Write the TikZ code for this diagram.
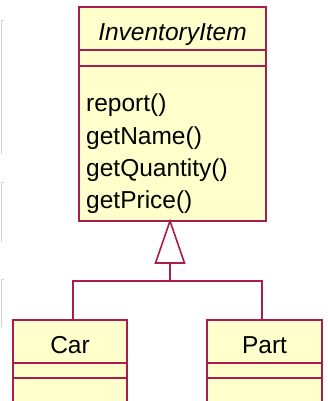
\documentclass[tikz,border=0pt]{standalone}
\usepackage{fontspec}
\setmainfont{Liberation Sans}
\usetikzlibrary{positioning}

\definecolor{umlborder}{RGB}{168,28,78}
\definecolor{umlfill}{RGB}{255,255,204}

\tikzset{
  compart/.style={draw=umlborder, fill=umlfill, line width=1.6pt, rectangle,
    inner sep=0pt, outer sep=0pt},
  umlline/.style={draw=umlborder, line width=1.6pt},
  classname/.style={font=\fontsize{24.5}{30}\selectfont, anchor=base, inner sep=0pt},
  optext/.style={font=\fontsize{24.5}{30}\selectfont, anchor=base west, inner sep=0pt},
  edgemark/.style={draw=gray!35, line width=1pt},
}

\begin{document}
\begin{tikzpicture}[x=1pt, y=-1pt]
\useasboundingbox (0,0) rectangle (328,401);
\clip (0,0) rectangle (328,401);

% faint marks on the left edge
\draw[edgemark] (4,21) -- (1,21) -- (1,154);
\draw[edgemark] (4,182) -- (1,182) -- (1,242);
\draw[edgemark] (4,279) -- (1,279) -- (1,327);

% abstract class
\node[compart, minimum width=187pt, minimum height=43pt, anchor=north west] (inv-name) at (79,7) {};
\node[compart, minimum width=187pt, minimum height=16pt, anchor=north] (inv-attr) at (inv-name.south) {};
\node[compart, minimum width=187pt, minimum height=155pt, anchor=north] (inv-ops) at (inv-attr.south) {};
\node[classname] (inv-label) at (172.5,41) {\itshape InventoryItem};
\foreach \op [count=\i] in {report(), getName(), getQuantity(), getPrice()}
  \node[optext] (op-\i) at (86,{112+32*(\i-1)}) {\op};

% subclasses
\node[compart, minimum width=114pt, minimum height=43pt, anchor=north west] (car-name) at (13,320) {};
\node[compart, minimum width=114pt, minimum height=15pt, anchor=north] (car-attr) at (car-name.south) {};
\node[compart, minimum width=114pt, minimum height=40pt, anchor=north] (car-ops) at (car-attr.south) {};
\node[classname] (car-label) at (70,353) {Car};

\node[compart, minimum width=115pt, minimum height=43pt, anchor=north west] (part-name) at (207,320) {};
\node[compart, minimum width=115pt, minimum height=15pt, anchor=north] (part-attr) at (part-name.south) {};
\node[compart, minimum width=115pt, minimum height=40pt, anchor=north] (part-ops) at (part-attr.south) {};
\node[classname] (part-label) at (264.5,353) {Part};

% generalization
\coordinate (apex) at (170,221);
\coordinate (tri-base) at (170,263);
\coordinate (joint) at (170,281);
\coordinate (car-top) at (73,320);
\coordinate (part-top) at (262,320);
\draw[umlline, fill=white] (apex) -- ++(-14.5,42) -- ++(29,0) -- cycle;
\draw[umlline] (tri-base) -- (joint);
\draw[umlline] (car-top) |- (joint) -| (part-top);
\end{tikzpicture}
\end{document}
